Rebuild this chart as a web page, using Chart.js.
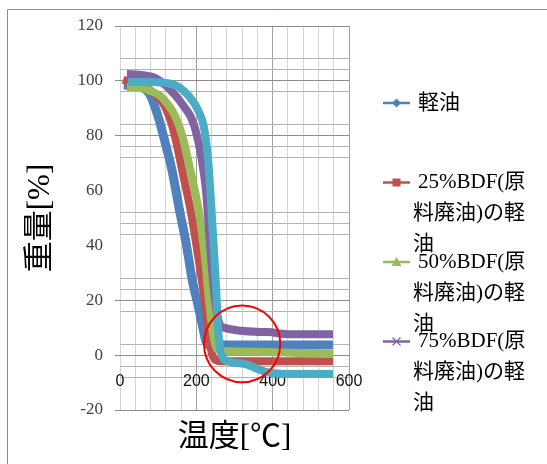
<!DOCTYPE html>
<html>
<head>
<meta charset="utf-8">
<script src="https://cdn.jsdelivr.net/npm/chart.js@4.4.1/dist/chart.umd.min.js"></script>
<style>
  html, body { margin: 0; padding: 0; background: #ffffff; }
  #wrap { position: relative; width: 547px; height: 464px; }
</style>
</head>
<body>
<div id="wrap"><canvas id="c" width="547" height="464"></canvas></div>
<script>
// ---- data ----
const seriesNames = [
  '軽油',
  '25%BDF(原料廃油)の軽油',
  '50%BDF(原料廃油)の軽油',
  '75%BDF(原料廃油)の軽油',
  '100%BDF(原料廃油)'
];
// legend text as it wraps in the reference (5th series is cut off there)
const legendLines = [
  ['軽油'],
  ['25%BDF(原', '料廃油)の軽', '油'],
  ['50%BDF(原', '料廃油)の軽', '油'],
  ['75%BDF(原', '料廃油)の軽', '油']
];
// temperature [°C] and weight [%] per series
const tempBlue   = [10, 39, 60, 79, 102, 121, 136, 157, 173, 189, 207, 218, 225, 236, 262, 400, 558];
const wtBlue     = [98.5, 98.2, 97.5, 94.9, 86, 76, 67.6, 52, 41, 27.6, 16.7, 9.5, 5.1, 3.6, 3.7, 3.7, 3.7];
const tempRed    = [8, 39, 66, 84, 105, 120, 136, 150, 162, 186, 202, 218, 228, 236, 244, 262, 400, 558];
const wtRed      = [100.4, 99, 97.8, 96, 93.5, 90, 84, 76, 68, 52, 38.5, 24, 13, 4, -0.7, -2.2, -2.2, -2.2];
const tempGreen  = [18, 52, 79, 105, 125, 145, 163, 185, 207, 223, 233, 244, 254, 275, 401, 558];
const wtGreen    = [97.8, 97.5, 96.4, 94.5, 91.5, 87, 80, 67, 52, 35, 20, 7.6, 2.2, 1.5, 1.1, 0.4];
const tempPurple = [18, 52, 92, 118, 144, 170, 185, 198, 212, 225, 233, 241, 249, 257, 267, 385, 446, 558];
const wtPurple   = [102.5, 102.2, 101.1, 98.5, 94.9, 90.2, 87, 82, 73, 60.4, 45.8, 31.3, 20.4, 13.1, 10.2, 8.4, 7.6, 7.6];
const tempCyan   = [21, 79, 131, 157, 183, 204, 220, 231, 238, 246, 252, 257, 265, 283, 328, 385, 446, 558];
const wtCyan     = [99.6, 99.6, 99, 97.5, 94, 89.5, 83, 71, 57, 38.5, 24, 9.5, 0.4, -2.2, -3.3, -6.2, -6.9, -6.9];

// axis ticks
const xTickValues = [0,40,80,120,160,200,240,280,320,360,400,440,480,520,560,600];
const xLabelValues = [0, 200, 400, 600];
const yTickValues = [-20,-8,-4,0,4,16,20,24,28,40,44,48,52,60,72,76,80,84,96,100,104,108,120];
const yLabelValues = [-20, 0, 20, 40, 60, 80, 100, 120];
const yMajorGrid = [-20, 0, 20, 80, 100, 120];
const yNoGrid = [40, 60];
// highlighted region (red circle): centre temp, centre weight, half-width temp, half-height weight
const highlight = [320, 4.1, 100, 14];

const colors = ['#4F81BD', '#C0504D', '#9BBB59', '#8064A2', '#4BACC6'];
const temps = [tempBlue, tempRed, tempGreen, tempPurple, tempCyan];
const weights = [wtBlue, wtRed, wtGreen, wtPurple, wtCyan];
const widths = [9, 8, 8, 8, 8];

const datasets = seriesNames.map((name, i) => ({
  label: name,
  data: temps[i].map((t, k) => ({x: t, y: weights[i][k]})),
  borderColor: colors[i],
  backgroundColor: colors[i],
  borderWidth: widths[i],
  pointRadius: 0,
  cubicInterpolationMode: 'monotone',
  fill: false,
  order: seriesNames.length - i
}));

const serif = '"Liberation Serif", "Noto Sans CJK JP", serif';

const framePlugin = {
  id: 'frame',
  beforeDraw(chart) {
    const ctx = chart.ctx;
    ctx.save();
    ctx.strokeStyle = '#8a8a8a';
    ctx.lineWidth = 1;
    ctx.beginPath();
    ctx.moveTo(7.5, chart.height + 5);
    ctx.lineTo(7.5, 9.5);
    ctx.lineTo(chart.width + 5, 9.5);
    ctx.stroke();
    ctx.restore();
  }
};

const circlePlugin = {
  id: 'circle',
  afterDatasetsDraw(chart) {
    const xs = chart.scales.x, ys = chart.scales.y, ctx = chart.ctx;
    const cx = xs.getPixelForValue(highlight[0]);
    const cy = ys.getPixelForValue(highlight[1]);
    const rx = Math.abs(xs.getPixelForValue(highlight[0] + highlight[2]) - cx);
    const ry = Math.abs(ys.getPixelForValue(highlight[1] + highlight[3]) - cy);
    ctx.save();
    ctx.strokeStyle = '#ff0000';
    ctx.lineWidth = 2;
    ctx.beginPath();
    ctx.ellipse(cx, cy, rx, ry, 0, 0, Math.PI * 2);
    ctx.stroke();
    ctx.restore();
  }
};

const legendPlugin = {
  id: 'customLegend',
  afterDraw(chart) {
    const ctx = chart.ctx;
    const itemTop = [103, 182.5, 262, 341.5];
    const lineGap = 31;
    ctx.save();
    ctx.font = '21px ' + serif;
    ctx.textBaseline = 'middle';
    ctx.fillStyle = '#000000';
    legendLines.forEach((lines, i) => {
      const y0 = itemTop[i];
      const c = colors[i];
      ctx.strokeStyle = c;
      ctx.lineWidth = 2.5;
      ctx.beginPath();
      ctx.moveTo(383, y0);
      ctx.lineTo(410, y0);
      ctx.stroke();
      ctx.fillStyle = c;
      ctx.strokeStyle = c;
      const mx = 396.5;
      if (i === 0) {
        ctx.beginPath();
        ctx.moveTo(mx, y0 - 4.5); ctx.lineTo(mx + 4.5, y0); ctx.lineTo(mx, y0 + 4.5); ctx.lineTo(mx - 4.5, y0);
        ctx.closePath(); ctx.fill();
      } else if (i === 1) {
        ctx.fillRect(mx - 4, y0 - 4, 8, 8);
      } else if (i === 2) {
        ctx.beginPath();
        ctx.moveTo(mx, y0 - 5); ctx.lineTo(mx + 5, y0 + 4); ctx.lineTo(mx - 5, y0 + 4);
        ctx.closePath(); ctx.fill();
      } else {
        ctx.lineWidth = 1.2;
        ctx.beginPath();
        ctx.moveTo(mx - 4, y0 - 4); ctx.lineTo(mx + 4, y0 + 4);
        ctx.moveTo(mx + 4, y0 - 4); ctx.lineTo(mx - 4, y0 + 4);
        ctx.stroke();
      }
      ctx.fillStyle = '#000000';
      lines.forEach((t, k) => {
        ctx.fillText(t, k === 0 ? 418 : 413, y0 + k * lineGap);
      });
    });
    ctx.restore();
  }
};

new Chart(document.getElementById('c'), {
  type: 'line',
  data: { datasets },
  options: {
    responsive: false,
    animation: false,
    devicePixelRatio: 1,
    layout: { padding: { top: 26, right: 198, bottom: 0, left: 0 } },
    plugins: { legend: { display: false }, tooltip: { enabled: false } },
    scales: {
      x: {
        type: 'linear',
        position: { y: 0 },
        min: 0, max: 600,
        afterBuildTicks(scale) { scale.ticks = xTickValues.map(v => ({value: v})); },
        ticks: {
          autoSkip: false, maxRotation: 0, padding: 17,
          font: { family: '"Liberation Sans", Arial, sans-serif', size: 16 },
          color: '#111111',
          callback: v => xLabelValues.includes(v) ? String(v) : ''
        },
        grid: {
          drawTicks: false,
          color: ctx => (xLabelValues.includes(ctx.tick.value) && ctx.tick.value !== 0) ? '#a0a0a0' : '#d4d4d4',
          lineWidth: 1
        },
        border: { display: false }
      },
      x2: {
        type: 'linear',
        position: 'bottom',
        min: 0, max: 600,
        ticks: { display: false },
        grid: { display: false, drawTicks: false },
        border: { display: false },
        title: {
          display: true, text: '温度[℃]',
          font: { family: serif, size: 31 },
          color: '#000000',
          padding: { top: 0, bottom: 8 }
        },
        afterFit(scale) { scale.height = 54; }
      },
      y: {
        type: 'linear',
        position: 'left',
        min: -20, max: 120,
        afterBuildTicks(scale) { scale.ticks = yTickValues.map(v => ({value: v})); },
        ticks: {
          autoSkip: false, padding: 12,
          font: { family: serif, size: 17 },
          color: '#404040',
          callback: v => yLabelValues.includes(v) ? String(v) : ''
        },
        grid: {
          tickLength: 5,
          color: ctx => yNoGrid.includes(ctx.tick.value) ? 'rgba(0,0,0,0)' : (yMajorGrid.includes(ctx.tick.value) ? '#8c8c8c' : '#b4b4b4'),
          tickColor: ctx => yMajorGrid.includes(ctx.tick.value) ? '#8c8c8c' : 'rgba(0,0,0,0)',
          lineWidth: 1
        },
        border: { display: false },
        title: {
          display: true, text: '重量[%]',
          font: { family: serif, size: 31 },
          color: '#000000',
          padding: { top: 22, bottom: 0 }
        },
        afterFit(scale) { scale.width = 120; }
      }
    }
  },
  plugins: [framePlugin, circlePlugin, legendPlugin]
});
</script>
</body>
</html>
